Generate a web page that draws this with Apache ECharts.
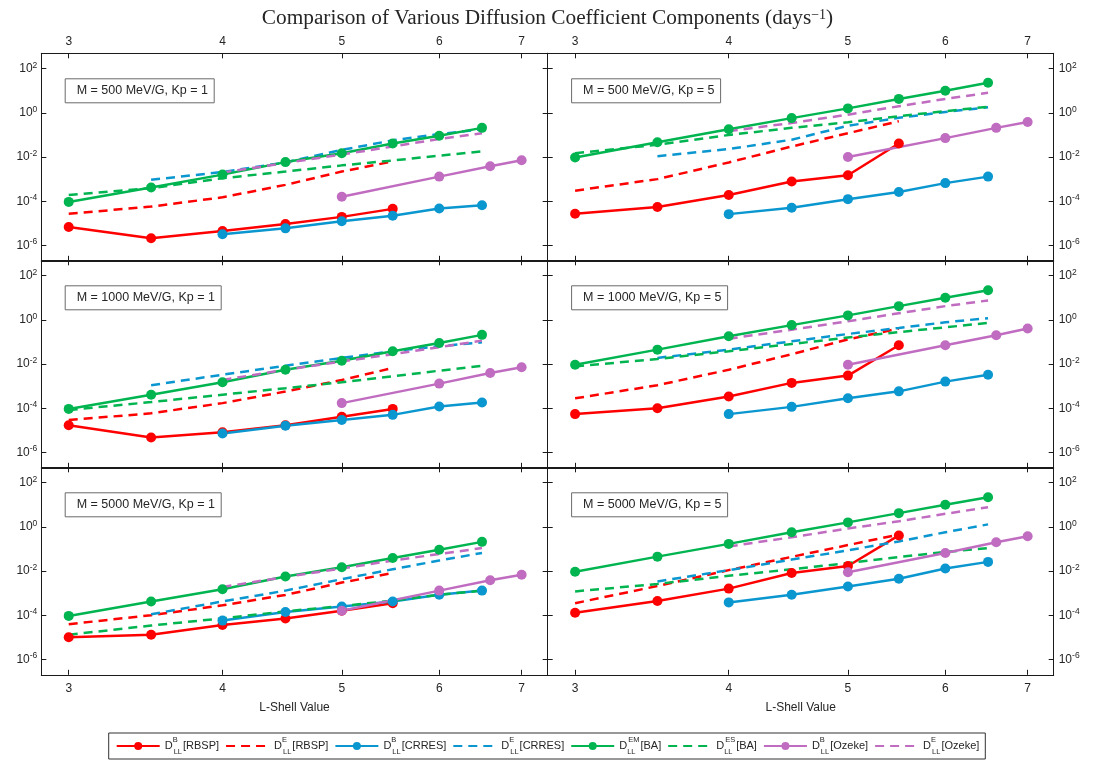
<!DOCTYPE html>
<html>
<head>
<meta charset="utf-8">
<title>Comparison of Various Diffusion Coefficient Components</title>
<script src="https://cdn.jsdelivr.net/npm/echarts@6/dist/echarts.min.js"></script>
<style>
  html, body { margin: 0; padding: 0; background: #fff; }
  #chart { width: 1095px; height: 761px; }
</style>
</head>
<body>
<div id="chart"></div>
<script>
// L-shell values used by each data set
var L_RBSP = [3, 3.5, 4, 4.5, 5, 5.5];
var L_CRRES_B = [4, 4.5, 5, 5.5, 6, 6.5];
var L_CRRES_E = [3.5, 4, 4.5, 5, 5.5, 6, 6.5];
var L_BA = [3, 3.5, 4, 4.5, 5, 5.5, 6, 6.5];
var L_OZ_B = [5, 6, 6.6, 7];
var L_OZ_E = [4, 4.5, 5, 5.5, 6, 6.5];

// one row per panel: 500/Kp1, 500/Kp5, 1000/Kp1, 1000/Kp5, 5000/Kp1, 5000/Kp5
var rbspB = [
  [6.8e-6, 2.1e-6, 4.5e-6, 9.3e-6, 1.95e-5, 4.5e-5],
  [2.7e-5, 5.5e-5, 1.9e-4, 7.8e-4, 1.5e-3, 0.041],
  [1.7e-5, 4.7e-6, 8.1e-6, 1.7e-5, 4.1e-5, 9.3e-5],
  [5.4e-5, 1e-4, 3.4e-4, 1.4e-3, 3.0e-3, 0.071],
  [1e-5, 1.3e-5, 3.6e-5, 7.1e-5, 1.6e-4, 3.5e-4],
  [1.3e-4, 4.4e-4, 1.6e-3, 8.1e-3, 0.017, 0.41]
];
var rbspE = [
  [2.7e-5, 5.7e-5, 1.5e-4, 5.5e-4, 2.2e-3, 6.3e-3],
  [3.0e-4, 1e-3, 5.7e-3, 0.03, 0.12, 0.42],
  [2.9e-5, 5.9e-5, 1.7e-4, 5.7e-4, 1.9e-3, 6.6e-3],
  [2.8e-4, 1.1e-3, 5.5e-3, 0.028, 0.13, 0.41],
  [3.9e-5, 1.0e-4, 2.8e-4, 8.3e-4, 3.0e-3, 8.1e-3],
  [3.5e-4, 2.1e-3, 0.011, 0.044, 0.15, 0.45]
];
var crresB = [
  [3.2e-6, 5.9e-6, 1.23e-5, 2.2e-5, 4.7e-5, 6.6e-5],
  [2.6e-5, 5.1e-5, 1.24e-4, 2.6e-4, 6.6e-4, 1.3e-3],
  [7.2e-6, 1.6e-5, 2.9e-5, 5e-5, 1.2e-4, 1.8e-4],
  [5.4e-5, 1.15e-4, 2.8e-4, 5.8e-4, 1.6e-3, 3.3e-3],
  [5.7e-5, 1.4e-4, 2.5e-4, 4.2e-4, 8.4e-4, 1.3e-3],
  [3.8e-4, 8.4e-4, 2.0e-3, 4.5e-3, 0.013, 0.026]
];
var crresE = [
  [9.3e-4, 2.1e-3, 5.7e-3, 0.021, 0.057, 0.11, 0.18],
  [0.011, 0.023, 0.061, 0.26, 0.6, 1.1, 1.8],
  [1.1e-3, 3.3e-3, 8.4e-3, 0.019, 0.038, 0.064, 0.096],
  [0.019, 0.045, 0.107, 0.23, 0.43, 0.78, 1.2],
  [1.1e-4, 4.2e-4, 1.3e-3, 4.3e-3, 0.012, 0.03, 0.066],
  [3.4e-3, 0.011, 0.033, 0.087, 0.22, 0.57, 1.3]
];
var baEM = [
  [9.3e-5, 4.2e-4, 1.6e-3, 5.9e-3, 0.015, 0.041, 0.093, 0.21],
  [9.5e-3, 0.047, 0.18, 0.58, 1.6, 4.3, 10, 23],
  [9.3e-5, 4.1e-4, 1.5e-3, 5.5e-3, 0.014, 0.038, 0.089, 0.21],
  [9.3e-3, 0.045, 0.18, 0.58, 1.6, 4.2, 10, 22],
  [9.3e-5, 4.2e-4, 1.5e-3, 5.7e-3, 0.015, 0.039, 0.093, 0.21],
  [9.3e-3, 0.045, 0.17, 0.57, 1.6, 4.2, 10, 22]
];
var baES = [
  [1.9e-4, 3.9e-4, 1.1e-3, 2.2e-3, 4.2e-3, 7e-3, 0.0115, 0.018],
  [0.015, 0.036, 0.10, 0.21, 0.38, 0.71, 1.2, 1.9],
  [8.3e-5, 1.9e-4, 4.1e-4, 8.1e-4, 1.5e-3, 2.8e-3, 5e-3, 8.3e-3],
  [7.8e-3, 0.017, 0.038, 0.081, 0.16, 0.28, 0.46, 0.73],
  [1.3e-5, 3.4e-5, 7.2e-5, 1.5e-4, 2.6e-4, 4.6e-4, 8.4e-4, 1.3e-3],
  [1.2e-3, 2.6e-3, 6.1e-3, 0.012, 0.023, 0.043, 0.073, 0.11]
];
var ozB = [
  [1.6e-4, 1.3e-3, 3.8e-3, 7.1e-3],
  [0.01, 0.072, 0.21, 0.39],
  [1.7e-4, 1.3e-3, 3.9e-3, 7.1e-3],
  [9.3e-3, 0.071, 0.2, 0.41],
  [1.6e-4, 1.3e-3, 3.8e-3, 6.8e-3],
  [8.9e-3, 0.066, 0.2, 0.38]
];
var ozE = [
  [2.0e-3, 5.4e-3, 0.013, 0.03, 0.066, 0.12],
  [0.15, 0.35, 0.83, 2.0, 4.3, 8.1],
  [1.9e-3, 5.5e-3, 0.013, 0.028, 0.058, 0.115],
  [0.14, 0.36, 0.87, 2.0, 4.2, 7.6],
  [1.9e-3, 5.4e-3, 0.013, 0.03, 0.059, 0.11],
  [0.13, 0.34, 0.84, 1.8, 3.9, 7.8]
];

var panelLabels = [
  'M = 500 MeV/G, Kp = 1', 'M = 500 MeV/G, Kp = 5',
  'M = 1000 MeV/G, Kp = 1', 'M = 1000 MeV/G, Kp = 5',
  'M = 5000 MeV/G, Kp = 1', 'M = 5000 MeV/G, Kp = 5'
];
var xTicks = [3, 4, 5, 6, 7];
var yTicks = [1e-6, 1e-4, 1e-2, 1, 100];

var RED = '#ff0000', BLUE = '#0a96cf', GREEN = '#00b450', PURPLE = '#c06cc0';
var FONT = 'Liberation Sans';
var INK = '#262626';

// series: key, legend text (rich), L grid, values, colour, dashed
var defs = [
  ['DB_RBSP', '{d|D}{supz|B}{sub|LL}{t|[RBSP]}', L_RBSP, rbspB, RED, false],
  ['DE_RBSP', '{d|D}{supz|E}{sub|LL}{t|[RBSP]}', L_RBSP, rbspE, RED, true],
  ['DB_CRRES', '{d|D}{supz|B}{sub|LL}{t|[CRRES]}', L_CRRES_B, crresB, BLUE, false],
  ['DE_CRRES', '{d|D}{supz|E}{sub|LL}{t|[CRRES]}', L_CRRES_E, crresE, BLUE, true],
  ['DEM_BA', '{d|D}{subz|LL}{sup|EM}{t|[BA]}', L_BA, baEM, GREEN, false],
  ['DES_BA', '{d|D}{subz|LL}{sup|ES}{t|[BA]}', L_BA, baES, GREEN, true],
  ['DB_Ozeke', '{d|D}{supz|B}{sub|LL}{t|[Ozeke]}', L_OZ_B, ozB, PURPLE, false],
  ['DE_Ozeke', '{d|D}{supz|E}{sub|LL}{t|[Ozeke]}', L_OZ_E, ozE, PURPLE, true]
];

var colLeft = [41.3, 547.7], colWidth = [506.4, 506];
var rowTop = [53.3, 260.3, 467.3], rowHeight = 207.5;

function expLabel(v) {
  var e = Math.round(Math.log10(v));
  if (Math.abs(Math.log10(v) - e) > 1e-6) return '';
  return '{b|10}{e|' + e + '}';
}
var expRich = {
  b: { fontSize: 12, fontFamily: FONT, color: INK, lineHeight: 16 },
  e: { fontSize: 8.5, fontFamily: FONT, color: INK, lineHeight: 9, verticalAlign: 'top' }
};

var grids = [], xAxes = [], yAxes = [], series = [], titles = [];

titles.push({
  text: 'Comparison of Various Diffusion Coefficient Components (days{s|\u22121})',
  left: 'center', top: 3,
  textStyle: {
    fontFamily: 'Liberation Serif', fontSize: 21.3, fontWeight: 'normal', color: INK,
    rich: { s: { fontFamily: 'Liberation Serif', fontSize: 14, color: INK, verticalAlign: 'top', lineHeight: 14 } }
  }
});

for (var p = 0; p < 6; p++) {
  var col = p % 2, row = Math.floor(p / 2);
  grids.push({ left: colLeft[col], top: rowTop[row], width: colWidth[col], height: rowHeight });
  var axisLine = { show: true, lineStyle: { color: '#1a1a1a', width: 1 } };
  ['bottom', 'top'].forEach(function (pos) {
    var showLab = (pos === 'top' && row === 0) || (pos === 'bottom' && row === 2);
    var ax = {
      type: 'log', gridIndex: p, position: pos, min: 2.85, max: 7.35, logBase: 10,
      axisLine: axisLine, splitLine: { show: false }, minorTick: { show: false },
      axisTick: { show: true, inside: true, length: 5, customValues: xTicks, lineStyle: { color: '#1a1a1a' } },
      axisLabel: { show: showLab, customValues: xTicks, margin: pos === 'top' ? 6 : 8,
        fontSize: 12, fontFamily: FONT, color: INK, formatter: function (v) { return String(Math.round(v)); } }
    };
    if (pos === 'bottom' && row === 2) {
      ax.name = 'L-Shell Value';
      ax.nameLocation = 'middle';
      ax.nameGap = 27;
      ax.nameTextStyle = { fontSize: 12, fontFamily: FONT, color: INK, verticalAlign: 'top' };
    }
    xAxes.push(ax);
  });
  ['left', 'right'].forEach(function (pos) {
    var showLab = (pos === 'left' && col === 0) || (pos === 'right' && col === 1);
    yAxes.push({
      type: 'log', gridIndex: p, position: pos, min: 2e-7, max: 500, logBase: 10,
      axisLine: axisLine, splitLine: { show: false }, minorTick: { show: false },
      axisTick: { show: true, inside: true, length: 5, customValues: yTicks, lineStyle: { color: '#1a1a1a' } },
      axisLabel: { show: showLab, customValues: yTicks, margin: pos === 'left' ? 4 : 5,
        formatter: expLabel, rich: expRich }
    });
  });
  titles.push({
    text: panelLabels[p],
    left: colLeft[col] + 23.4, top: rowTop[row] + 25,
    borderColor: '#6a6a6a', borderWidth: 1, backgroundColor: '#fff',
    padding: [5, 6, 5, 12],
    textStyle: { fontFamily: FONT, fontSize: 12.5, fontWeight: 'normal', color: INK, lineHeight: 15 }
  });
  defs.forEach(function (d) {
    var Ls = d[2], vals = d[3][p];
    series.push({
      name: d[0], type: 'line', xAxisIndex: 2 * p, yAxisIndex: 2 * p,
      data: Ls.map(function (L, i) { return [L, vals[i]]; }),
      symbol: d[5] ? 'none' : 'circle', symbolSize: 10,
      showSymbol: !d[5],
      itemStyle: { color: d[4] },
      lineStyle: { color: d[4], width: 2.5, type: d[5] ? [9, 6] : 'solid' },
      emphasis: { disabled: true },
      silent: true
    });
  });
}

var legendText = {};
defs.forEach(function (d) { legendText[d[0]] = d[1]; });

var option = {
  animation: false,
  backgroundColor: '#fff',
  title: titles,
  grid: grids,
  xAxis: xAxes,
  yAxis: yAxes,
  legend: {
    left: 'center', top: 733,
    selectedMode: false,
    orient: 'horizontal',
    borderColor: '#333', borderWidth: 1, backgroundColor: '#fff',
    padding: [3, 6, 3, 7],
    itemWidth: 43, itemHeight: 10, itemGap: 6,
    data: defs.map(function (d) {
      return d[5] ? { name: d[0], itemStyle: { opacity: 0 } } : { name: d[0] };
    }),
    formatter: function (name) { return legendText[name]; },
    textStyle: {
      fontFamily: FONT, fontSize: 11, color: INK,
      rich: {
        d: { fontFamily: FONT, fontSize: 11, color: INK, lineHeight: 20 },
        t: { fontFamily: FONT, fontSize: 11, color: INK, lineHeight: 20, padding: [0, 0, 0, 1] },
        sup: { fontFamily: FONT, fontSize: 7.5, color: INK, lineHeight: 10, verticalAlign: 'top' },
        supz: { fontFamily: FONT, fontSize: 7.5, color: INK, lineHeight: 10, verticalAlign: 'top', width: 1 },
        sub: { fontFamily: FONT, fontSize: 7.5, color: INK, lineHeight: 10, verticalAlign: 'bottom' },
        subz: { fontFamily: FONT, fontSize: 7.5, color: INK, lineHeight: 10, verticalAlign: 'bottom', width: 1 }
      }
    }
  },
  series: series
};

var myChart = echarts.init(document.getElementById('chart'));
myChart.setOption(option);
</script>
</body>
</html>
